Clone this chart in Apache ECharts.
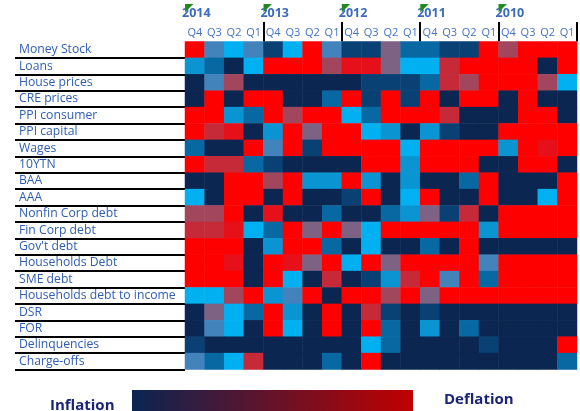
<!DOCTYPE html>
<html>
<head>
<meta charset="utf-8">
<script src="https://cdn.jsdelivr.net/npm/echarts@6/dist/echarts.min.js"></script>
<style>
html,body{margin:0;padding:0;background:#fff;}
#main{width:580px;height:411px;}
</style>
</head>
<body>
<div id="main"></div>
<script>
// ---- data ----
const years = ['2014', '2013', '2012', '2011', '2010'];
const quarters = ['Q4', 'Q3', 'Q2', 'Q1'];
const rowLabels = ['Money Stock', 'Loans', 'House prices', 'CRE prices', 'PPI consumer', 'PPI capital',
  'Wages', '10YTN', 'BAA', 'AAA', 'Nonfin Corp debt', 'Fin Corp debt', "Gov't debt",
  'Households Debt', 'SME debt', 'Households debt to income', 'DSR', 'FOR', 'Delinquencies', 'Charge-offs'];
// signal codes: 0 light blue ... 5 navy ... 10 bright red
const levelColors = ['#00b0f0', '#0a94d2', '#4283bc', '#0868a2', '#0a4174', '#0a2651',
  '#7d6283', '#a2465e', '#c62a38', '#e6101a', '#ff0000'];
const moneyStock   = [10,2,0,2,4,0,10,2,4,4,6,3,3,4,4,10,7,10,10,10];
const loans        = [1,3,5,0,10,10,10,7,9,9,6,0,0,8,10,10,10,10,5,10];
const housePrices  = [5,2,7,5,5,5,5,5,5,4,4,4,3,8,7,10,10,10,7,0];
const crePrices    = [5,10,5,10,10,5,5,3,10,4,10,4,10,5,10,10,5,10,5,5];
const ppiConsumer  = [10,10,1,3,10,7,10,10,0,3,10,10,10,8,5,5,5,10,10,5];
const ppiCapital   = [10,8,9,5,1,10,6,10,10,0,1,5,1,4,5,5,10,10,10,10];
const wages        = [3,5,5,10,2,10,4,10,10,10,10,0,10,10,10,10,1,10,9,10];
const tenYTN       = [10,8,8,3,4,5,5,5,5,10,10,1,10,10,10,5,5,10,10,5];
const baa          = [5,5,10,10,7,10,1,1,10,1,5,1,5,5,3,10,5,5,5,10];
const aaa          = [0,5,10,10,5,10,5,5,4,10,5,0,10,5,5,10,5,5,0,10];
const nonfinDebt   = [7,7,10,5,9,5,5,3,5,5,3,1,6,4,8,5,10,10,10,10];
const finDebt      = [8,8,9,0,3,10,6,10,6,0,10,10,10,10,10,1,10,10,10,10];
const govDebt      = [10,10,10,5,1,10,10,3,5,0,5,5,3,5,10,5,5,5,5,5];
const hhDebt       = [10,10,9,5,10,9,6,10,0,10,6,10,10,10,10,2,10,10,10,10];
const smeDebt      = [10,10,10,5,10,0,5,8,5,4,1,8,10,2,10,3,10,10,10,10];
const hhDebtIncome = [0,0,7,10,1,2,10,5,10,10,7,10,6,10,10,10,10,10,10,10];
const dsr          = [5,6,0,3,10,1,5,10,5,8,4,5,4,5,5,5,5,5,5,5];
const forRatio     = [5,2,0,5,10,0,5,10,5,10,3,5,1,5,3,5,5,5,5,5];
const delinquencies= [4,5,5,5,5,5,5,5,5,0,3,5,5,5,5,4,5,5,5,10];
const chargeOffs   = [2,3,0,8,5,5,5,3,5,10,5,5,5,5,5,5,5,5,5,3];

const rows = [moneyStock, loans, housePrices, crePrices, ppiConsumer, ppiCapital, wages, tenYTN,
  baa, aaa, nonfinDebt, finDebt, govDebt, hhDebt, smeDebt, hhDebtIncome, dsr, forRatio,
  delinquencies, chargeOffs];

const colLabels = [];
years.forEach(() => quarters.forEach(q => colLabels.push(q)));
const data = [];
rows.forEach((r, y) => r.forEach((v, x) => data.push([x, y, v])));

const chart = echarts.init(document.getElementById('main'));
const FONT = 'Open Sans';
chart.setOption({
  animation: false,
  backgroundColor: '#ffffff',
  grid: { left: 185, right: 1, top: 41.5, bottom: 41.5 },
  xAxis: [
    {
      type: 'category', position: 'top', data: colLabels,
      axisLine: { show: false }, axisTick: { show: false }, splitLine: { show: false },
      axisLabel: { color: '#4472c4', fontSize: 11, fontFamily: FONT, margin: 3.5, interval: 0 }
    },
    {
      type: 'category', position: 'top', boundaryGap: false, data: years.concat(['']),
      axisLine: { show: false }, splitLine: { show: false },
      axisTick: { show: true, length: 19.5, interval: (i) => i > 0, lineStyle: { color: '#000', width: 2 } },
      axisLabel: { color: '#3a6bc0', fontSize: 12.5, fontWeight: 'bold', fontFamily: FONT, margin: 21.5,
        align: 'left', interval: 0, padding: [0, 0, 0, -3] }
    },
    {
      type: 'category', position: 'top', boundaryGap: false, data: years.concat(['']),
      axisLine: { show: false }, axisTick: { show: false }, splitLine: { show: false },
      axisLabel: { color: '#1f8a1f', fontSize: 11, fontFamily: 'DejaVu Sans', margin: 28,
        align: 'left', interval: 0, formatter: (v) => v ? '\u25E4' : '' }
    }
  ],
  yAxis: {
    type: 'category', inverse: true, data: rowLabels,
    axisLine: { show: false }, splitLine: { show: false },
    axisTick: { show: true, length: 170, interval: (i) => i > 0, lineStyle: { color: '#000', width: 2 } },
    axisLabel: { align: 'left', margin: 166, color: '#2f5db3', fontSize: 12.2, fontFamily: FONT, interval: 0 }
  },
  visualMap: {
    type: 'piecewise', show: false, dimension: 2,
    pieces: levelColors.map((c, i) => ({ value: i, color: c }))
  },
  series: [{
    type: 'heatmap', data: data, xAxisIndex: 0, yAxisIndex: 0,
    itemStyle: { borderWidth: 0 }, emphasis: { disabled: true }
  }],
  graphic: [
    { type: 'rect', left: 132, top: 390, shape: { width: 281, height: 25 },
      style: { fill: { type: 'linear', x: 0, y: 0, x2: 1, y2: 0,
        colorStops: [{ offset: 0, color: '#0a2552' }, { offset: 1, color: '#c00000' }] } } },
    { type: 'text', left: 50, top: 398, style: { text: 'Inflation', font: 'bold 15px "Open Sans"', fill: '#1b2478' } },
    { type: 'text', left: 444, top: 392, style: { text: 'Deflation', font: 'bold 15px "Open Sans"', fill: '#1b2478' } }
  ]
});
</script>
</body>
</html>
